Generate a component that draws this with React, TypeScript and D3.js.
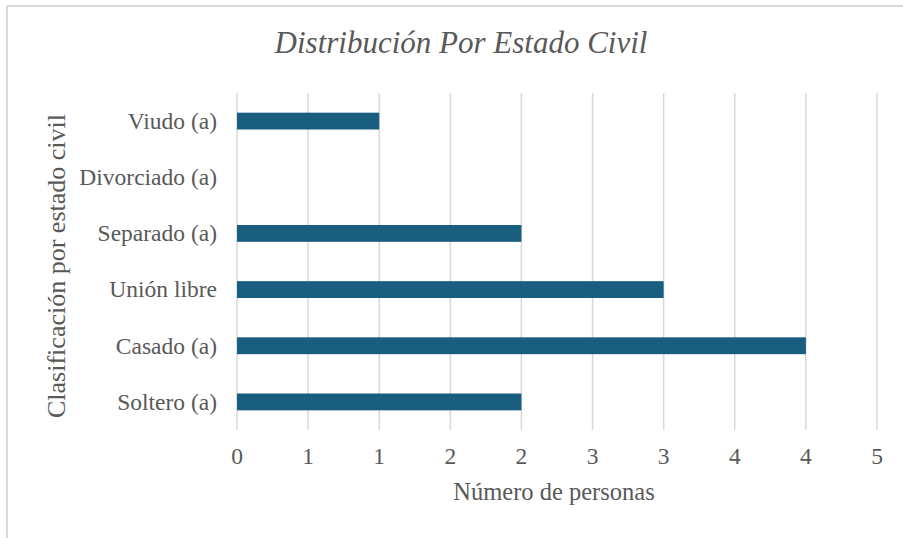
import React from "react";
import * as d3 from "d3";

const categories = ["Soltero (a)", "Casado (a)", "Unión libre", "Separado (a)", "Divorciado (a)", "Viudo (a)"];
const values = [2, 4, 3, 2, 0, 1];
const tickValues = [0, 0.5, 1, 1.5, 2, 2.5, 3, 3.5, 4, 4.5];
const tickLabels = ["0", "1", "1", "2", "2", "3", "3", "4", "4", "5"];
const title = "Distribución Por Estado Civil";
const xTitle = "Número de personas";
const yTitle = "Clasificación por estado civil";

const W = 903;
const H = 538;
const plot = { left: 237, right: 877, top: 93, bottom: 430 };
const FONT = "Liberation Serif";
const TEXT = "#595959";
const GRID = "#d9d9d9";
const BAR = "#1a5e7f";

export default function App() {
  const x = d3.scaleLinear().domain([0, 4.5]).range([plot.left, plot.right]);
  const y = d3
    .scaleBand<string>()
    .domain([...categories].reverse())
    .range([plot.top, plot.bottom])
    .paddingInner(0.7)
    .paddingOuter(0.35);
  const bw = y.bandwidth();

  const font = (size: number, italic = false): React.CSSProperties => ({
    fontFamily: FONT,
    fontSize: size,
    ...(italic ? { fontStyle: "italic" } : {}),
  });

  return (
    <svg width={W} height={H} style={{ position: "absolute", left: 0, top: 0, background: "#fff", fontFamily: FONT }}>
      <rect x={0} y={0} width={W} height={H} fill="#fff" />
      <line x1={7} y1={6} x2={W} y2={6} stroke={GRID} strokeWidth={2} />
      <line x1={7} y1={6} x2={7} y2={H} stroke={GRID} strokeWidth={2} />

      <text x={461} y={53} textAnchor="middle" fill={TEXT} style={font(31, true)}>
        {title}
      </text>

      {tickValues.map((t, i) => (
        <g key={i}>
          <line x1={x(t)} x2={x(t)} y1={plot.top} y2={plot.bottom} stroke={GRID} strokeWidth={1.5} />
          <text x={x(t)} y={464} textAnchor="middle" fill={TEXT} style={font(23.5)}>
            {tickLabels[i]}
          </text>
        </g>
      ))}

      {categories.map((c, i) => (
        <g key={c}>
          {values[i] > 0 && (
            <rect x={x(0)} y={y(c)!} width={x(values[i]) - x(0)} height={bw} fill={BAR} />
          )}
          <text
            x={217}
            y={y(c)! + bw / 2}
            dy="0.33em"
            textAnchor="end"
            fill={TEXT}
            style={font(23.5)}
          >
            {c}
          </text>
        </g>
      ))}

      <text x={(plot.left + plot.right) / 2 - 3} y={500} textAnchor="middle" fill={TEXT} style={font(24.5)}>
        {xTitle}
      </text>

      <text transform={`translate(65, 266) rotate(-90)`} textAnchor="middle" fill={TEXT} style={font(26)}>
        {yTitle}
      </text>
    </svg>
  );
}
